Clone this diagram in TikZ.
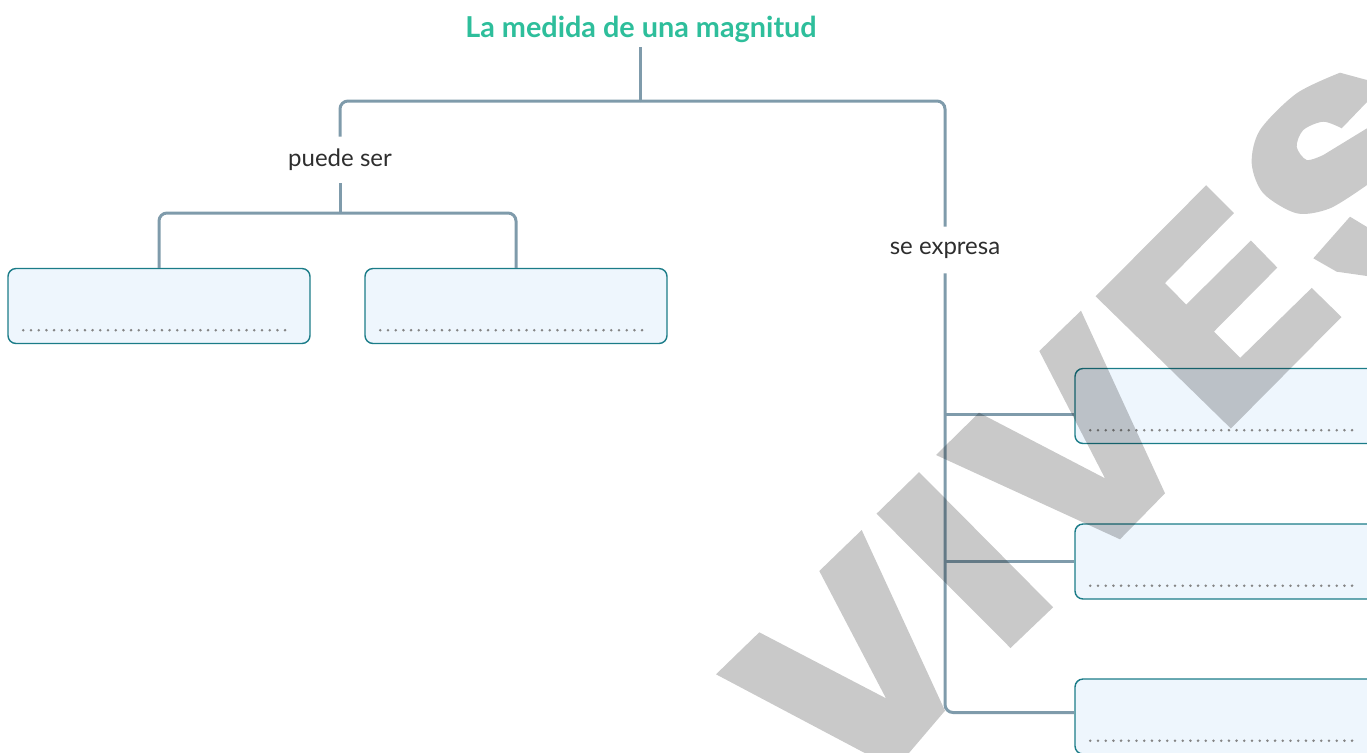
\documentclass[tikz,border=0pt]{standalone}
\usepackage{fontspec}
\setmainfont{Lato}
\usepackage{tikz}
\usetikzlibrary{positioning}

\definecolor{linec}{HTML}{7F9BAB}
\definecolor{boxline}{HTML}{1B7C88}
\definecolor{boxfill}{HTML}{EEF6FD}
\definecolor{dotc}{HTML}{858585}
\definecolor{titlec}{HTML}{2EBE9B}
\definecolor{textc}{HTML}{2E2E2E}

\tikzset{
  conn/.style={draw=linec, line width=1.5pt, rounded corners=4pt},
  answer/.style={draw=boxline, fill=boxfill, line width=0.7pt, rounded corners=4pt,
    minimum width=151pt, minimum height=37.5pt, inner sep=0pt},
  dots/.style={draw=dotc, line width=1.4pt, line cap=round, dash pattern=on 0pt off 3.85pt},
  label/.style={fill=white, text=textc, font=\fontsize{12}{14}\selectfont, inner sep=0pt, minimum height=23pt},
  heading/.style={text=titlec, font=\fontsize{14.4}{16}\selectfont\bfseries, inner sep=2.2pt},
  wmark/.style={fill=black, fill opacity=0.21}
}

\begin{document}
\begin{tikzpicture}[x=0.5pt, y=-0.5pt]
  \useasboundingbox (0,0) rectangle (1367,752);
  \clip (0,0) rectangle (1367,752);

  % title and labels
  \node[heading, anchor=base] (title) at (641,37) {La medida de una magnitud};
  \node[label] (puede) at (340,160) {puede ser};
  \node[label] (expresa) at (945,250) {se expresa};

  % answer boxes
  \node[answer] (b1) at (159,306) {};
  \node[answer] (b2) at (516,306) {};
  \node[answer] (r1) at (1226,406) {};
  \node[answer] (r2) at (1226,561.5) {};
  \node[answer] (r3) at (1226,716.5) {};
  \foreach \b in {b1,b2,r1,r2,r3}
    \draw[dots] ([xshift=8pt,yshift=7pt]\b.south west) -- ([xshift=-9pt,yshift=7pt]\b.south east);

  % connectors
  \coordinate (top) at (640,101);
  \coordinate (low) at (340,213);
  \draw[conn] (title.south -| top) -- (top);
  \draw[conn] (top) -| (puede.north);
  \draw[conn] (top) -| (expresa.north);
  \draw[conn] (puede.south) -- (low);
  \draw[conn] (b1.north) -- (b1.north |- low) -- (b2.north |- low) -- (b2.north);
  \draw[conn] (expresa.south) |- ([yshift=2pt]r3.west);
  \draw[conn] ([yshift=-4pt]r1.west) -- ([yshift=-4pt]r1.west -| expresa);
  \draw[conn] (r2.west) -- (r2.west -| expresa);

  % watermark
  \fill[wmark] (716,674.3) -- (759.3,632.3) -- (886,698.3) -- (819.3,571) -- (861.7,530)
    -- (945,710.7) -- (903,760) -- (878,760) -- cycle;
  \fill[wmark] (876.5,513.7) -- (919.1,472.1) -- (1053.1,607.3) -- (1010.5,648) -- cycle;
  \fill[wmark] (936,455) -- (979,412.7) -- (1105,478.3) -- (1039.3,351) -- (1081,310.7)
    -- (1165,493.3) -- (1120,539.3) -- cycle;
  \fill[wmark] (1095.6,296.3) -- (1206.2,185.2) -- (1233.9,213.1) -- (1165,283) -- (1186.2,304.6)
    -- (1250.9,240.5) -- (1277.3,267.6) -- (1213.9,331.6) -- (1240.3,357.8) -- (1311.7,287.9)
    -- (1341.5,317) -- (1230.9,428.5) -- cycle;
  \fill[wmark] (1367,80) -- plot[smooth] coordinates {(1340,72.7) (1296.7,93.3) (1260,130)
    (1251.7,163.3) (1263.3,193.3) (1296.7,213.3) (1330,208.3) (1367,185)}
    -- (1367,128.3) -- plot[smooth] coordinates {(1323.3,155) (1306.7,160) (1296.7,146.7)
    (1303.3,130) (1323.3,121.7) (1341.7,128.3)} -- (1367,102) -- cycle;
  \fill[wmark] (1350,216.7) -- (1367,227) -- (1367,276)
    -- plot[smooth] coordinates {(1336.7,271.7) (1313.3,258.3)} -- cycle;
\end{tikzpicture}
\end{document}
